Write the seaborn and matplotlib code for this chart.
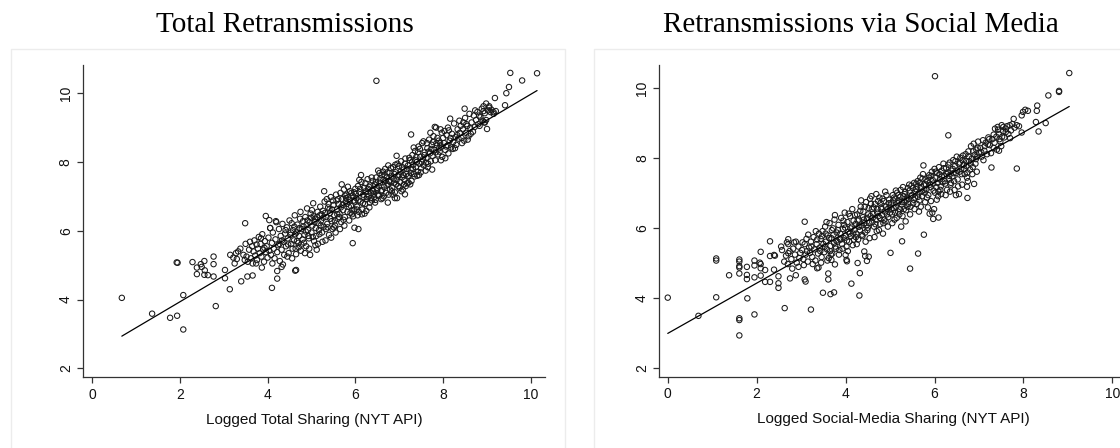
import matplotlib
matplotlib.use("Agg")
import matplotlib.pyplot as plt
import seaborn as sns
import pandas as pd
from matplotlib.patches import Rectangle

sns.set_theme(style="white")
plt.rcParams['font.family'] = ['Liberation Sans', 'DejaVu Sans']

# ---------------- data: Total Retransmissions ----------------
total_low = [(0.68,4.05),(1.37,3.59),(1.78,3.47),(1.94,3.53),(2.08,3.13),(2.08,4.13),(1.93,5.08),(1.95,5.07),
             (2.29,5.09),(2.39,4.93),(2.39,4.74),(2.48,5.03),(2.50,4.95),(2.56,5.12),(2.57,4.85),(2.56,4.72),
             (2.64,4.71),(2.77,5.25),(2.77,5.03),(2.77,4.67),(2.82,3.81),(3.03,4.86),(3.03,4.62),(3.14,4.30),
             (3.40,4.53),(3.49,6.22),(3.54,4.67),(3.66,4.70),(3.87,4.93),(4.10,4.34),(4.22,4.61),(4.22,4.83),
             (4.32,4.95),(4.63,4.84),(4.65,4.86),(3.96,6.43),(4.04,6.31),(4.06,6.08),(5.94,5.64),(5.98,6.09),
             (6.07,6.05),(3.15,5.30),(3.25,5.05),(3.30,5.18)]
total_high = [(6.48,10.36),(6.94,8.18),(7.27,8.80),(7.13,7.06),(6.74,6.82),(6.90,6.95),(8.05,8.11),(8.16,9.26),
              (8.49,9.55),(9.00,8.96),(8.95,9.15),(9.18,9.86),(9.41,9.65),(9.44,10.00),(9.50,10.18),(9.53,10.59),
              (9.80,10.37),(10.14,10.58),(8.82,9.35),(8.92,9.48),(9.05,9.62),(9.15,9.45),(8.98,9.22)]
total_band = [
    (3.22,5.22),(3.28,5.35),(3.33,5.40),(3.38,5.48),(3.45,5.30),(3.48,5.15),(3.50,5.62),(3.52,5.25),(3.55,5.10),
    (3.58,5.45),(3.60,5.68),(3.62,5.20),(3.65,5.55),(3.66,5.05),
    (3.68,5.40),(3.70,5.72),(3.72,5.28),(3.75,5.60),(3.76,5.15),(3.78,5.48),(3.80,5.82),(3.82,5.35),(3.84,5.62),
    (3.86,5.25),(3.88,5.90),(3.90,5.45),(3.92,5.10),(3.94,5.70),(3.96,5.38),(3.98,5.55),(4.00,5.22),(3.85,5.78),
    (3.74,5.05),(3.93,5.50),
    (4.02,5.80),(4.04,5.42),(4.06,6.08),(4.08,5.30),(4.10,5.65),(4.12,5.95),(4.14,5.48),(4.16,5.20),(4.18,5.75),
    (4.20,6.25),(4.22,5.38),(4.24,5.58),(4.26,6.05),(4.28,5.12),(4.30,5.85),(4.32,5.45),(4.34,6.20),(4.36,5.68),
    (4.38,5.30),(4.40,5.92),(4.11,5.05),(4.27,5.62),(4.35,5.02),(4.19,6.28),
    (4.42,5.55),(4.44,6.10),(4.46,5.78),(4.48,5.35),(4.50,6.30),(4.52,5.88),(4.54,5.62),(4.56,5.20),(4.58,6.02),
    (4.60,5.72),(4.62,6.45),(4.64,5.48),(4.66,5.95),(4.68,6.18),(4.70,5.65),(4.72,5.85),(4.74,6.35),(4.76,5.42),
    (4.78,6.05),(4.80,5.75),(4.45,5.25),(4.55,6.22),(4.65,5.32),(4.75,6.55),(4.63,5.90),(4.71,5.52),
    (4.82,6.12),(4.84,5.88),(4.86,6.40),(4.88,5.55),(4.90,6.65),(4.92,6.02),(4.94,5.78),(4.96,6.25),(4.98,6.50),
    (5.00,5.95),(5.02,6.15),(5.04,6.80),(5.06,5.70),(5.08,6.35),(5.10,6.08),(5.12,5.45),(5.14,6.55),(5.16,6.22),
    (5.18,5.90),(5.20,6.70),(4.85,5.35),(4.95,5.48),(5.05,6.42),(5.15,5.62),(4.91,6.30),(5.01,6.60),(5.11,5.85),
    (4.87,5.98),(5.19,6.45),(4.97,5.30),
    (5.22,6.30),(5.24,5.95),(5.26,6.58),(5.28,6.12),(5.30,6.85),(5.32,5.72),(5.34,6.40),(5.36,6.20),(5.38,6.68),
    (5.40,5.88),(5.42,6.52),(5.44,6.98),(5.46,6.28),(5.48,6.05),(5.50,6.75),(5.52,6.45),(5.54,6.15),(5.56,7.05),
    (5.58,6.62),(5.60,6.35),(5.25,5.68),(5.35,6.92),(5.45,5.80),(5.55,5.95),(5.29,7.15),(5.41,6.62),(5.51,6.10),
    (5.33,6.05),(5.57,6.88),(5.23,6.48),
    (5.62,6.78),(5.64,6.50),(5.66,7.10),(5.68,6.25),(5.70,6.92),(5.72,6.60),(5.74,7.20),(5.76,6.40),(5.78,6.85),
    (5.80,7.05),(5.82,6.55),(5.84,6.98),(5.86,6.30),(5.88,7.15),(5.90,6.72),(5.92,6.48),(5.94,7.02),(5.96,6.88),
    (5.98,6.62),(6.00,7.22),(5.65,6.05),(5.75,6.15),(5.85,6.70),(5.95,6.42),(5.69,7.35),(5.79,6.95),(5.89,6.52),
    (5.67,6.68),(5.83,7.28),(5.97,7.12),
    (6.02,6.95),(6.04,6.70),(6.06,7.30),(6.08,6.55),(6.10,7.12),(6.12,6.85),(6.14,7.42),(6.16,6.62),(6.18,7.05),
    (6.20,7.25),(6.22,6.78),(6.24,7.15),(6.26,6.92),(6.28,7.50),(6.30,7.02),(6.32,6.68),(6.34,7.32),(6.36,7.10),
    (6.38,6.88),(6.40,7.45),(6.05,6.45),(6.15,6.48),(6.25,6.58),(6.35,6.95),(6.09,7.48),(6.19,6.98),(6.29,7.22),
    (6.13,7.62),(6.39,7.18),(6.21,6.50),
    (6.42,7.08),(6.44,7.35),(6.46,6.90),(6.48,7.55),(6.50,7.20),(6.52,7.75),(6.54,7.02),(6.56,7.40),(6.58,7.15),
    (6.60,7.62),(6.62,6.95),(6.64,7.48),(6.66,7.28),(6.68,7.80),(6.70,7.10),(6.72,7.55),(6.74,7.35),(6.76,7.05),
    (6.78,7.68),(6.80,7.42),(6.45,6.82),(6.55,7.68),(6.65,7.00),(6.75,7.90),(6.49,7.25),(6.59,6.92),(6.69,7.45),
    (6.79,7.20),(6.53,7.30),(6.63,7.72),
    (6.82,7.58),(6.84,7.25),(6.86,7.85),(6.88,7.40),(6.90,7.12),(6.92,7.70),(6.94,7.48),(6.96,7.95),(6.98,7.30),
    (7.00,7.62),(7.02,7.42),(7.04,8.02),(7.06,7.55),(7.08,7.20),(7.10,7.78),(7.12,7.48),(7.14,8.10),(7.16,7.65),
    (7.18,7.38),(7.20,7.90),(6.85,7.05),(6.95,6.95),(7.05,7.15),(7.15,7.30),(6.89,7.65),(6.99,7.88),(7.09,7.62),
    (7.19,7.58),(6.93,7.35),(7.03,7.72),
    (7.22,7.60),(7.24,8.05),(7.26,7.78),(7.28,7.45),(7.30,8.20),(7.32,7.92),(7.34,7.65),(7.36,8.32),(7.38,7.85),
    (7.40,8.00),(7.42,7.72),(7.44,8.45),(7.46,7.95),(7.48,8.15),(7.50,7.82),(7.52,8.55),(7.54,8.08),(7.56,7.90),
    (7.58,8.28),(7.60,7.75),(7.25,7.35),(7.35,7.58),(7.45,7.62),(7.55,8.60),(7.29,8.00),(7.39,8.15),(7.49,7.70),
    (7.62,8.12),(7.64,8.40),(7.66,7.95),(7.68,8.65),(7.70,8.25),(7.72,8.02),(7.74,8.50),(7.76,8.18),(7.78,8.75),
    (7.80,8.35),(7.82,8.05),(7.84,9.00),(7.86,8.48),(7.88,8.22),(7.90,8.62),(7.92,8.30),(7.94,8.95),(7.96,8.45),
    (7.98,8.15),(8.00,8.70),(7.65,7.85),(7.75,7.78),(7.85,8.55),(7.95,8.05),(7.71,8.85),(7.81,9.02),(7.91,8.40),
    (8.02,8.55),(8.05,8.35),(8.08,8.78),(8.10,8.48),(8.13,8.92),(8.15,8.62),(8.18,8.42),(8.20,8.82),(8.23,8.58),
    (8.25,9.12),(8.28,8.72),(8.30,8.50),(8.33,8.95),(8.35,8.68),(8.38,8.85),(8.40,9.05),(8.12,8.25),(8.22,8.38),
    (8.32,8.78),
    (8.42,8.70),(8.45,8.95),(8.48,8.62),(8.50,9.28),(8.52,8.85),(8.55,9.05),(8.58,8.75),(8.60,9.40),(8.62,8.98),
    (8.65,9.15),(8.68,8.88),(8.70,9.35),(8.72,9.02),(8.75,9.22),(8.78,9.45),(8.80,9.10),(8.46,9.15),(8.56,8.65),
    (8.85,9.30),(8.88,9.55),(8.90,9.20),(8.92,9.62),(8.95,9.42),(8.98,9.70),(9.02,9.50),(9.05,9.58),(9.08,9.45),
    (9.10,9.52),(9.15,9.40),(9.20,9.48),(8.94,9.15)]
total_core = [
    (4.33,5.72),(4.41,6.02),(4.47,5.60),(4.53,5.95),(4.57,5.48),(4.61,6.12),(4.67,5.70),(4.73,6.08),(4.77,5.60),
    (4.81,6.28),(4.83,5.65),(4.89,6.18),(4.93,5.85),(4.99,6.38),(5.03,5.82),(5.07,6.25),(5.09,5.58),(5.13,6.40),
    (5.17,6.02),(5.21,6.15),(5.27,6.38),(5.31,6.52),(5.37,6.10),(5.39,6.78),(5.43,6.35),(5.47,6.62),(5.49,6.88),
    (5.53,6.30),(5.59,6.48),(5.61,6.92),(5.63,6.40),(5.71,6.75),(5.73,6.32),(5.77,7.02),(5.81,6.78),(5.87,6.90),
    (5.91,7.10),(5.93,6.60),(5.99,6.85),(6.01,7.08),(6.03,6.62),(6.07,6.88),(6.11,7.22),(6.17,6.80),(6.23,7.38),
    (6.27,6.98),(6.31,7.28),(6.33,6.82),(6.37,7.55),(6.41,7.15),(6.43,6.98),(6.47,7.42),(6.51,7.05),(6.57,7.52),
    (6.61,7.18),(6.67,7.62),(6.71,7.32),(6.73,7.70),(6.77,7.45),(6.81,7.82),(6.83,7.15),(6.87,7.50),(6.91,7.92),
    (6.97,7.58),(7.01,7.25),(7.07,7.85),(7.11,7.35),(7.13,7.95),(7.17,7.80),(7.21,7.40),(7.23,8.12),(7.27,7.68),
    (7.31,7.80),(7.33,8.42),(7.37,8.05),(7.41,7.60),(7.43,8.28),(7.47,8.38),(7.51,8.00),(7.57,8.20),(7.61,7.98),
    (7.63,8.55),(7.67,8.30),(7.73,8.38),(7.77,8.58),(7.83,8.28),(7.87,8.70),(7.93,8.55),(7.97,8.85),(8.03,8.90),
    (8.07,8.45),(8.11,9.00),(8.17,8.70),(8.27,8.40),(8.37,9.20),(8.43,8.55),(8.53,9.10),(8.63,8.82),(8.73,9.50),
    (8.83,9.05)]

# ---------------- data: Retransmissions via Social Media ----------------
social_low = [(0.00,4.02),(0.69,3.50),(1.09,5.14),(1.09,5.08),(1.09,4.03),(1.38,4.66),(1.61,5.11),(1.61,5.05),
              (1.61,4.92),(1.61,4.88),(1.61,4.71),(1.61,3.43),(1.61,3.38),(1.61,2.94),(1.78,4.90),(1.78,4.67),
              (1.78,4.55),(1.79,4.00),(1.95,5.08),(1.95,4.94),(1.95,4.60),(1.95,3.54),(2.09,5.33),(2.07,5.02),
              (2.09,4.98),(2.09,4.86),(2.09,4.65),(2.19,4.81),(2.19,4.47),(2.30,5.63),(2.30,5.21),(2.30,4.47),
              (2.39,5.24),(2.41,5.22),(2.39,4.82),(2.49,4.63),(2.49,4.43),(2.49,4.30),(2.55,5.48),(2.57,5.38),
              (2.63,3.72),(2.71,5.29),(2.75,4.57),(2.71,5.69),(2.71,5.55),(2.84,5.60),(2.88,4.66),(2.94,4.90),
              (3.08,6.19),(3.08,4.54),(3.10,4.48),(3.22,3.68),(3.36,4.86),(3.39,4.88),(3.49,4.16),(3.61,4.71),
              (3.61,4.54),(3.66,4.12),(3.74,4.17),(3.76,4.97),(3.68,5.10),(4.02,5.10),(4.03,5.06),(4.00,5.24),
              (4.13,4.42),(4.27,5.01),(4.31,4.08),(4.32,4.72),(4.42,5.34),(4.44,5.21),(4.48,5.07),(4.52,5.19),
              (5.01,5.30),(5.27,5.63),(5.45,4.85),(5.63,5.28),(5.76,5.82),(5.97,6.27),(6.09,6.31)]
social_high = [(6.01,10.35),(6.31,8.66),(6.74,6.87),(6.73,7.19),(6.73,7.45),(6.89,7.27),(7.28,7.74),(7.85,7.71),
               (7.96,8.74),(8.34,8.77),(8.50,9.01),(8.28,9.04),(8.30,9.36),(8.31,9.51),(8.04,9.39),(8.10,9.36),
               (7.99,9.33),(7.96,9.23),(8.56,9.80),(8.80,9.93),(8.80,9.90),(9.03,10.44),(7.78,9.13),(7.55,8.90),
               (7.60,8.75),(7.52,8.62),(7.45,8.22),(7.35,8.45)]
social_band = [
    (2.62,5.05),(2.66,5.22),(2.70,4.98),(2.74,5.35),(2.78,5.12),(2.82,5.42),(2.86,5.25),(2.90,5.02),(2.94,5.48),
    (2.98,5.30),(2.68,5.60),(2.80,4.85),(2.88,5.62),(2.96,5.15),
    (3.02,5.38),(3.05,5.12),(3.08,5.55),(3.10,5.25),(3.12,5.70),(3.15,5.05),(3.18,5.45),(3.20,5.30),(3.22,5.62),
    (3.25,5.18),(3.28,5.75),(3.30,5.40),(3.32,5.08),(3.35,5.55),(3.38,5.28),(3.40,5.85),(3.06,4.95),(3.16,5.82),
    (3.26,4.98),(3.36,5.68),
    (3.42,5.45),(3.44,5.70),(3.46,5.18),(3.48,5.92),(3.50,5.55),(3.52,5.32),(3.54,6.05),(3.56,5.62),(3.58,5.40),
    (3.60,5.80),(3.62,5.15),(3.64,6.15),(3.66,5.50),(3.68,5.72),(3.70,5.28),(3.72,6.00),(3.74,5.58),(3.76,6.38),
    (3.78,5.42),(3.80,5.88),(3.45,5.02),(3.55,5.85),(3.65,5.35),(3.75,6.25),(3.59,5.08),(3.69,5.95),(3.79,5.65),
    (3.82,5.62),(3.84,6.10),(3.86,5.38),(3.88,5.85),(3.90,6.30),(3.92,5.55),(3.94,5.98),(3.96,5.72),(3.98,6.45),
    (4.00,5.80),(4.02,5.48),(4.04,6.18),(4.06,5.90),(4.08,5.62),(4.10,6.35),(4.12,5.78),(4.14,6.05),(4.16,5.52),
    (4.18,6.22),(4.20,5.95),(3.85,5.25),(3.95,6.22),(4.05,5.35),(4.15,6.55),(3.89,5.68),(3.99,6.02),(4.09,5.85),
    (4.19,5.68),
    (4.22,6.12),(4.24,5.85),(4.26,6.40),(4.28,5.68),(4.30,6.25),(4.32,5.95),(4.34,6.62),(4.36,6.08),(4.38,5.78),
    (4.40,6.48),(4.42,6.15),(4.44,5.88),(4.46,6.75),(4.48,6.30),(4.50,6.02),(4.52,6.58),(4.54,5.72),(4.56,6.35),
    (4.58,6.92),(4.60,6.18),(4.25,5.55),(4.35,6.80),(4.45,5.62),(4.55,6.85),(4.29,6.05),(4.39,6.32),(4.49,5.95),
    (4.59,6.55),
    (4.62,6.42),(4.64,6.05),(4.66,6.70),(4.68,6.25),(4.70,5.92),(4.72,6.55),(4.74,6.35),(4.76,6.88),(4.78,6.12),
    (4.80,6.60),(4.82,6.38),(4.84,5.85),(4.86,6.78),(4.88,6.48),(4.90,6.20),(4.92,6.95),(4.94,6.55),(4.96,6.32),
    (4.98,6.82),(5.00,6.45),(4.65,5.75),(4.75,5.95),(4.85,6.15),(4.95,6.05),(4.69,6.98),(4.79,6.72),(4.89,7.05),
    (4.99,6.62),
    (5.02,6.72),(5.04,6.40),(5.06,6.95),(5.08,6.58),(5.10,6.25),(5.12,6.85),(5.14,6.62),(5.16,7.02),(5.18,6.48),
    (5.20,6.78),(5.22,6.55),(5.24,7.10),(5.26,6.68),(5.28,6.35),(5.30,6.92),(5.32,6.75),(5.34,7.05),(5.36,6.52),
    (5.38,6.88),(5.40,7.15),(5.05,6.15),(5.15,6.30),(5.25,6.05),(5.35,6.20),(5.09,6.88),(5.19,6.95),(5.29,7.18),
    (5.39,6.62),
    (5.42,6.85),(5.44,7.08),(5.46,6.62),(5.48,7.22),(5.50,6.95),(5.52,6.72),(5.54,7.30),(5.56,6.88),(5.58,7.12),
    (5.60,6.70),(5.62,7.35),(5.64,7.00),(5.66,6.80),(5.68,7.45),(5.70,7.18),(5.72,6.92),(5.74,7.55),(5.76,7.25),
    (5.78,7.02),(5.80,7.40),(5.45,6.40),(5.55,6.55),(5.65,6.48),(5.75,7.80),(5.59,7.28),(5.69,6.62),(5.79,6.75),
    (5.82,7.12),(5.84,7.35),(5.86,6.95),(5.88,7.52),(5.90,7.25),(5.92,6.78),(5.94,7.62),(5.96,7.38),(5.98,7.08),
    (6.00,7.70),(6.02,7.45),(6.04,7.18),(6.06,7.58),(6.08,6.92),(6.10,7.75),(6.12,7.40),(6.14,7.20),(6.16,7.65),
    (6.18,7.32),(6.20,7.85),(5.85,6.60),(5.95,6.45),(6.05,6.82),(6.15,6.98),(5.89,6.42),(5.99,6.55),(6.09,7.05),
    (6.22,7.50),(6.24,7.28),(6.26,7.72),(6.28,7.10),(6.30,7.60),(6.32,7.42),(6.34,7.88),(6.36,7.25),(6.38,7.65),
    (6.40,7.48),(6.42,7.95),(6.44,7.35),(6.46,7.78),(6.48,7.58),(6.50,8.05),(6.52,7.40),(6.54,7.85),(6.56,7.62),
    (6.58,8.02),(6.60,7.70),(6.25,6.95),(6.35,7.05),(6.45,7.10),(6.55,6.98),(6.62,7.25),(6.64,8.08),(6.48,6.95),
    (6.66,7.82),(6.68,7.55),(6.70,8.12),(6.72,7.78),(6.74,7.60),(6.76,8.20),(6.78,7.92),(6.80,7.68),(6.82,8.35),
    (6.84,8.00),(6.86,7.75),(6.88,8.42),(6.90,8.10),(6.92,7.85),(6.94,8.25),(6.96,8.05),(6.98,8.48),(7.00,8.15),
    (6.75,7.35),(6.85,7.55),(6.95,7.62),
    (7.03,8.30),(7.06,8.05),(7.09,8.52),(7.12,8.22),(7.15,8.45),(7.18,8.12),(7.21,8.60),(7.24,8.38),(7.27,8.15),
    (7.30,8.55),(7.33,8.30),(7.36,8.85),(7.39,8.62),(7.42,8.90),(7.45,8.70),(7.48,8.48),(7.51,8.95),(7.54,8.78),
    (7.57,8.60),(7.60,8.85),(7.10,7.95),(7.20,8.40),(7.40,8.25),(7.50,8.35),(7.46,8.55),
    (7.63,8.92),(7.66,8.70),(7.69,8.95),(7.72,8.80),(7.75,8.98),(7.80,8.88),(7.85,8.95),(7.90,8.92),(7.70,8.58)]
social_core = [
    (3.03,5.60),(3.13,5.35),(3.23,5.48),(3.33,5.92),(3.43,5.35),(3.47,5.78),(3.53,5.48),(3.57,6.18),(3.63,5.72),
    (3.67,5.25),(3.73,5.82),(3.77,5.48),(3.83,5.95),(3.87,5.70),(3.93,5.42),(3.97,6.10),(4.03,5.65),(4.07,6.42),
    (4.11,6.00),(4.17,5.85),(4.21,6.38),(4.23,5.75),(4.27,6.22),(4.31,6.05),(4.33,6.50),(4.37,5.82),(4.41,6.25),
    (4.43,6.62),(4.47,6.08),(4.51,6.40),(4.53,6.15),(4.57,6.70),(4.61,6.30),(4.63,6.60),(4.67,6.12),(4.71,6.45),
    (4.73,6.78),(4.77,6.30),(4.81,6.55),(4.83,6.85),(4.87,6.25),(4.91,6.62),(4.93,6.40),(4.97,6.72),(5.03,6.55),
    (5.07,6.80),(5.11,6.45),(5.13,7.08),(5.17,6.72),(5.21,6.40),(5.23,6.90),(5.27,6.75),(5.31,6.55),(5.33,6.98),
    (5.37,6.80),(5.41,6.70),(5.43,7.25),(5.47,6.92),(5.51,7.15),(5.53,6.82),(5.57,7.05),(5.61,7.20),(5.63,6.90),
    (5.67,7.30),(5.71,7.05),(5.73,7.42),(5.77,7.10),(5.81,7.25),(5.83,6.88),(5.87,7.45),(5.91,7.18),(5.93,7.50),
    (5.97,7.28),(6.01,7.02),(6.03,7.62),(6.07,7.30),(6.11,7.55),(6.13,7.10),(6.17,7.48),(6.21,7.72),(6.23,7.35),
    (6.27,7.55),(6.31,7.82),(6.33,7.50),(6.37,7.30),(6.41,7.70),(6.43,7.58),(6.47,7.92),(6.51,7.65),(6.53,7.20),
    (6.57,7.88),(6.61,7.55),(6.63,7.95),(6.67,7.70),(6.71,7.92),(6.77,8.05),(6.81,7.85),(6.87,8.20),(6.93,7.98),
    (6.97,8.30),(7.05,8.18),(7.13,8.35),(7.23,8.55),(7.33,8.68),(7.43,8.82)]

titles = ["Total Retransmissions", "Retransmissions via Social Media"]
xlabels = ["Logged Total Sharing (NYT API)", "Logged Social-Media Sharing (NYT API)"]
x_ticks = [0, 2, 4, 6, 8, 10]
y_ticks = [2, 4, 6, 8, 10]

df_total = pd.DataFrame(total_low + total_band + total_core + total_high, columns=["x", "y"])
df_social = pd.DataFrame(social_low + social_band + social_core + social_high, columns=["x", "y"])

W, H = 1120, 448
fig = plt.figure(figsize=(W / 100, H / 100), dpi=100)
fig.patch.set_facecolor("white")

# light panel frames (Stata style graph regions), drawn behind the axes
for (x0, x1) in [(10.7, 565.0), (593.6, 1148.0)]:
    rect = Rectangle((x0 / W, -0.1), (x1 - x0) / W, 1.1 - 49.3 / H,
                     transform=fig.transFigure, facecolor="white",
                     edgecolor="#ececec", linewidth=1.0)
    rect.set_zorder(-10)
    fig.add_artist(rect)

# axes positions in pixels: (left, right, top, bottom)
pos = [(83.2, 545.4, 65.0, 377.3), (659.3, 1128.4, 65.0, 376.7)]
xlims = [(-0.20, 10.33), (-0.19, 10.36)]
ylims = [(1.74, 10.82), (1.76, 10.67)]
title_cx = [285, 861]

for i, df in enumerate([df_total, df_social]):
    l, r, t, b = pos[i]
    ax = fig.add_axes([l / W, (H - b) / H, (r - l) / W, (b - t) / H])
    ax.set_zorder(1)
    ax.patch.set_alpha(0)
    sns.scatterplot(data=df, x="x", y="y", ax=ax, marker="o", s=15,
                    facecolors="none", edgecolor="#1a1a1a", linewidth=0.75, zorder=3)
    sns.regplot(data=df, x="x", y="y", ax=ax, scatter=False, ci=None,
                line_kws=dict(color="black", linewidth=0.9, zorder=4))
    ax.set_xlim(*xlims[i])
    ax.set_ylim(*ylims[i])
    ax.set_xticks(x_ticks)
    ax.set_yticks(y_ticks)
    ax.set_xticklabels([str(v) for v in x_ticks])
    ax.set_yticklabels([str(v) for v in y_ticks], rotation=90, va="center")
    for side in ["top", "right"]:
        ax.spines[side].set_visible(False)
    for side in ["left", "bottom"]:
        ax.spines[side].set_color("#333333")
        ax.spines[side].set_linewidth(0.9)
    ax.tick_params(axis="both", direction="out", length=4.5, width=0.9, color="#333333",
                   labelsize=10, labelcolor="#111111", pad=3, left=True, bottom=True)
    ax.set_xlabel(xlabels[i], fontsize=11, color="#111111", labelpad=8)
    ax.set_ylabel("")
    fig.text(title_cx[i] / W, 1 - 31.7 / H, titles[i], ha="center", va="baseline",
             fontsize=21, family=["Liberation Serif", "DejaVu Serif"], color="black")

fig.savefig("out.png", dpi=100, facecolor="white")
